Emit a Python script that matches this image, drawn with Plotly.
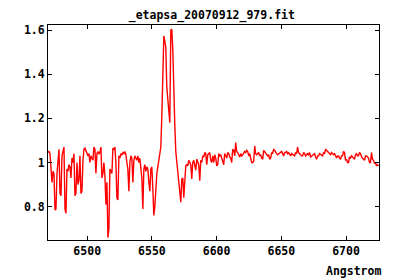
import numpy as np
import plotly.graph_objects as go

# Spectrum sampling: start wavelength (Angstrom) and step between samples
wave_start = 6469.7
wave_step = 0.7716

flux = [
    # ~6469.7 - 6511
    1.045, 1.05, 1.04, 0.97, 0.91, 0.96, 0.95, 0.785, 0.79, 0.95,
    0.99, 1.06, 0.86, 0.85, 1.03, 1.05, 1.07, 0.79, 0.77, 0.97,
    0.96, 0.99, 0.98, 0.93, 1.02, 1.0, 1.04, 0.85, 0.86, 1.0,
    0.90, 0.92, 1.03, 0.86, 0.87, 1.01, 1.06, 1.065, 1.05, 1.04,
    1.03, 1.04, 1.0, 1.03, 1.02, 1.01, 1.07, 1.06, 0.95, 1.04,
    1.05, 1.04, 1.045, 1.07, 0.93,
    # ~6512 - 6555
    0.95, 1.0, 0.94, 0.81, 0.91, 0.66, 0.70, 0.97, 0.96, 0.95,
    1.065, 1.06, 1.07, 1.0, 0.84, 0.83, 1.03, 1.02, 1.04, 1.035,
    1.045, 1.04, 1.05, 1.035, 1.0, 0.97, 0.87, 1.0, 1.03, 1.02,
    0.91, 1.01, 1.03, 1.02, 1.01, 1.03, 1.0, 1.02, 0.95, 0.93,
    0.79, 0.97, 0.99, 0.96, 0.98, 0.97, 0.91, 0.87, 0.97, 0.98,
    0.88, 0.76, 0.80, 0.90, 0.95, 0.98, 1.01,
    # H-alpha emission ~6556 - 6568
    1.04, 1.07, 1.21, 1.41, 1.573, 1.55, 1.52, 1.34, 1.28, 1.22,
    1.18, 1.60, 1.603, 1.51, 1.30, 1.17, 1.05,
    # ~6569 - 6605
    1.0, 0.955, 0.93, 0.85, 0.82, 0.925, 0.93, 0.84, 0.93, 0.985,
    0.99, 0.985, 1.01, 1.0, 0.99, 0.925, 1.0, 1.01, 0.98, 0.965,
    1.015, 1.0, 0.99, 0.917, 1.01, 1.0, 1.03, 1.025, 1.045, 1.04,
    0.99, 1.035, 1.04, 1.045, 1.01, 1.0, 1.03, 1.0, 1.035, 1.02,
    0.985, 0.99, 1.04, 1.03, 1.035, 1.02,
    # ~6605 - 6664
    1.015, 0.99, 1.04, 1.03, 1.02, 1.045, 1.04, 1.025, 1.02, 1.0,
    1.06, 1.055, 1.03, 1.09, 1.05, 1.045, 1.03, 1.025, 1.04, 1.03,
    1.035, 1.04, 1.05, 1.045, 1.055, 1.05, 1.03, 1.04, 1.015, 1.0,
    1.0, 1.005, 1.075, 1.04, 1.035, 1.04, 1.045, 1.03, 1.035, 1.02,
    1.015, 1.055, 1.05, 1.045, 1.04, 1.03, 1.035, 1.015, 1.02, 1.045,
    1.04, 1.06, 1.055, 1.045, 1.04, 1.035, 1.04, 1.04, 1.045, 1.05,
    1.04, 1.03, 1.045, 1.045, 1.05, 1.04, 1.045, 1.035, 1.03, 1.04,
    1.035, 1.03, 1.03, 1.045, 1.04, 1.07, 1.045,
    # ~6664 - 6725
    1.04, 1.035, 1.03, 1.03, 1.045, 1.04, 1.03, 1.035, 1.04, 1.035,
    1.045, 1.025, 1.03, 1.03, 1.035, 1.04, 1.025, 1.015, 1.03, 1.03,
    1.04, 1.035, 1.03, 1.03, 1.045, 1.04, 1.06, 1.055, 1.05, 1.05,
    1.04, 1.035, 1.045, 1.04, 1.035, 1.04, 1.025, 1.02, 1.03, 1.03,
    1.02, 1.015, 1.03, 1.03, 1.05, 1.045, 1.01, 1.015, 1.0, 1.0,
    1.025, 1.02, 1.03, 1.025, 1.02, 1.015, 1.035, 1.04, 1.03, 1.03,
    1.045, 1.04, 1.025, 1.02, 1.015, 1.01, 1.03, 1.03, 1.025, 1.02,
    1.0, 1.0, 1.045, 1.015, 1.01, 0.995, 1.0, 0.985, 0.99, 0.985,
]

wavelength = wave_start + wave_step * np.arange(len(flux))

x_ticks = [6500, 6550, 6600, 6650, 6700]
y_ticks = [0.8, 1.0, 1.2, 1.4, 1.6]
y_tick_text = ["0.8", "1", "1.2", "1.4", "1.6"]

title_text = "_etapsa_20070912_979.fit"
x_label = "Angstrom"

font = dict(family="DejaVu Sans Mono", size=11.5, color="black", weight="bold")

fig = go.Figure()
fig.add_trace(go.Scatter(
    x=wavelength, y=flux, mode="lines",
    line=dict(color="#ff0000", width=1.4),
    showlegend=False, hoverinfo="skip",
))

axis_common = dict(
    showgrid=False, zeroline=False, showline=True, linecolor="black",
    linewidth=1, mirror="allticks", ticks="inside", ticklen=4,
    tickcolor="black", tickwidth=1, tickfont=font, automargin=False,
)

fig.update_layout(
    width=392, height=272,
    margin=dict(l=40, r=21, t=17, b=40),
    paper_bgcolor="white", plot_bgcolor="white",
    title=dict(text=title_text, x=0.52, xanchor="center", y=0.974,
               yanchor="middle", font=font),
    xaxis=dict(range=[6469.7, 6725.5], tickvals=x_ticks, **axis_common),
    yaxis=dict(range=[0.649, 1.6227], tickvals=y_ticks, ticktext=y_tick_text,
               **axis_common),
    annotations=[dict(text=x_label, xref="paper", yref="paper", x=1.012,
                      y=-0.144, xanchor="right", yanchor="middle",
                      showarrow=False, font=font)],
)

fig.write_html("out.html")
